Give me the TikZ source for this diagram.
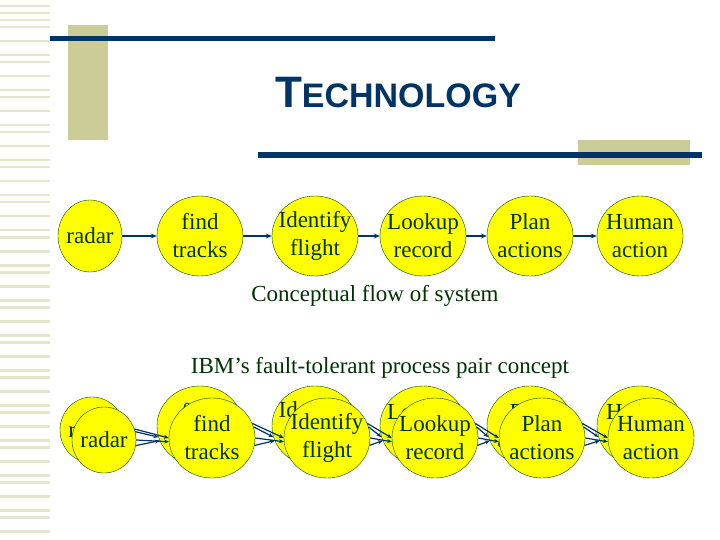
\documentclass[tikz,border=0pt]{standalone}
\usepackage{fontspec}
\setmainfont{Liberation Serif}
\newfontfamily\titlefont{Liberation Sans}
\usetikzlibrary{arrows.meta,shapes.geometric}
\definecolor{navy}{HTML}{003366}
\definecolor{tan}{HTML}{CCCC99}
\definecolor{stripe}{HTML}{E6E6CC}
\definecolor{ylw}{HTML}{FFFF00}
\begin{document}
\begin{tikzpicture}[x=1pt,y=-1pt,
  ell/.style={ellipse,draw=black!70!green,fill=ylw,inner xsep=-6pt,inner ysep=-4pt,minimum width=86pt,minimum height=80pt,align=center,font=\fontsize{23}{28}\selectfont,text=black!80!green},
  arr/.style={navy,line width=1.5pt,-{Stealth[length=6pt,width=5pt]}},
  arr2/.style={navy,line width=1.2pt,-{Stealth[length=5pt,width=4pt]}}]
\useasboundingbox (0,0) rectangle (720,540);
\fill[white] (0,0) rectangle (720,540);
\foreach \y in {5,12,19,26,40,54,61,75,89,96,110,124,131,145,159,166,180,194,201,215,229,236,250,264,271,285,299,306,320,334,341,355,369,376,390,404,411,425,439,446,460,474,481,495,509,516,530}
  \fill[stripe] (0,\y) rectangle (50,\y+2.5);
\fill[tan] (68,25) rectangle (108,140);
\fill[tan] (578,140) rectangle (690,165);
\fill[navy] (50,36) rectangle (495,41);
\fill[navy] (258,152) rectangle (702,158);
\node[navy,font=\titlefont\bfseries] (title) at (398,93) {\fontsize{44}{46}\selectfont T\fontsize{34}{36}\selectfont ECHNOLOGY};
% top row
\node[ell,minimum width=64pt,minimum height=72pt] (a1) at (90,236) {radar};
\node[ell] (a2) at (200,236) {find\\tracks};
\node[ell] (a3) at (315,236) {Identify\\flight};
\node[ell] (a4) at (423,236) {Lookup\\record};
\node[ell] (a5) at (530,236) {Plan\\actions};
\node[ell] (a6) at (640,236) {Human\\action};
\foreach \i/\j in {a1/a2,a2/a3,a3/a4,a4/a5,a5/a6} \draw[arr] (\i) -- (\j);
\node[font=\fontsize{23}{26}\selectfont,text=black!80!green] (cap1) at (375,296) {Conceptual flow of system};
\node[font=\fontsize{23}{26}\selectfont,text=black!80!green] (cap2) at (380,368) {IBM’s fault-tolerant process pair concept};
% bottom row back
\node[ell,minimum width=64pt,minimum height=66pt] (b1) at (92,430) {radar};
\node[ell] (b2) at (200,426) {find\\tracks};
\node[ell] (b3) at (315,426) {Identify\\flight};
\node[ell] (b4) at (423,426) {Lookup\\record};
\node[ell] (b5) at (530,426) {Plan\\actions};
\node[ell] (b6) at (640,426) {Human\\action};
% bottom row front
\node[ell,minimum width=64pt,minimum height=66pt] (c1) at (104,440) {radar};
\node[ell] (c2) at (212,438) {find\\tracks};
\node[ell] (c3) at (327,438) {Identify\\flight};
\node[ell] (c4) at (435,438) {Lookup\\record};
\node[ell] (c5) at (542,438) {Plan\\actions};
\node[ell] (c6) at (651,438) {Human\\action};
\foreach \i/\j in {1/2,2/3,3/4,4/5,5/6} {
  \draw[arr2] (c\i.15) -- (b\j.195);
  \draw[arr2] (c\i.-10) -- (b\j.200);
  \draw[arr2] (c\i.20) -- (c\j.180);
  \draw[arr2] (c\i.0) -- (c\j.185);
}
\end{tikzpicture}
\end{document}
